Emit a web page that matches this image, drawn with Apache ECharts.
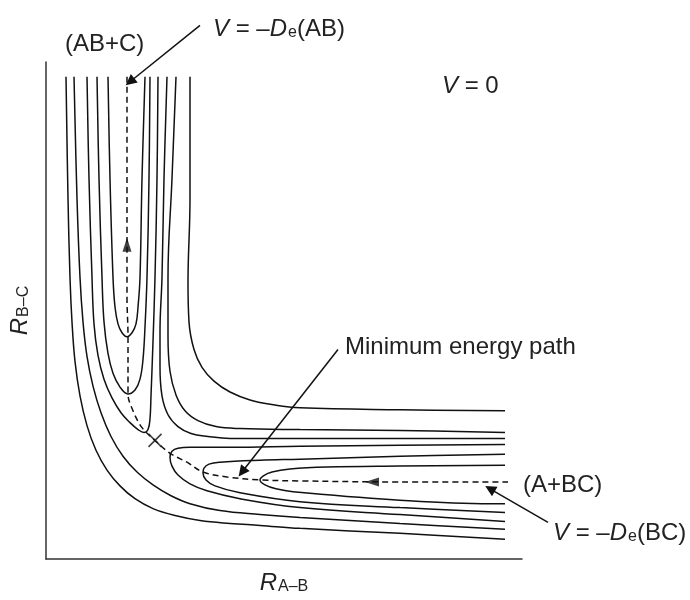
<!DOCTYPE html>
<html>
<head>
<meta charset="utf-8">
<script src="https://cdn.jsdelivr.net/npm/echarts@6/dist/echarts.min.js"></script>
<style>
  html, body { margin: 0; padding: 0; background: #fff; }
  #chart { width: 690px; height: 600px; }
</style>
</head>
<body>
<div id="chart"></div>
<script>
// R_A-B (x) and R_B-C (y), arbitrary length units
// U-shaped contours of the AB+C channel (top)
const u1 = [[0.62,4.88],[0.64,3.85],[0.67,2.85],[0.69,2.55],[0.72,2.38],[0.76,2.29],[0.81,2.25],[0.86,2.29],[0.90,2.38],[0.92,2.55],[0.94,2.85],[0.96,3.85],[0.99,4.88]];
const u2 = [[0.51,4.88],[0.53,3.85],[0.56,2.85],[0.58,2.40],[0.62,2.08],[0.67,1.88],[0.74,1.74],[0.82,1.67],[0.89,1.71],[0.94,1.82],[0.97,2.02],[0.99,2.35],[1.01,2.85],[1.03,3.85],[1.04,4.88]];
const u3 = [[0.41,4.88],[0.43,3.85],[0.46,2.85],[0.48,2.38],[0.52,2.06],[0.58,1.82],[0.66,1.63],[0.75,1.48],[0.84,1.38],[0.92,1.31],[0.98,1.28],[1.02,1.31],[1.04,1.42],[1.05,1.65],[1.07,2.20],[1.09,2.85],[1.11,3.85],[1.12,4.88]];
// sideways U contours of the A+BC channel (right)
const v1 = [[4.59,0.95],[3.54,0.94],[2.81,0.93],[2.44,0.91],[2.26,0.88],[2.17,0.84],[2.14,0.80],[2.19,0.75],[2.30,0.71],[2.47,0.68],[3.47,0.60],[4.44,0.56],[4.59,0.56]];
const v2 = [[4.59,1.06],[3.54,1.04],[2.54,1.01],[2.14,1.00],[1.74,0.98],[1.63,0.96],[1.58,0.92],[1.57,0.87],[1.60,0.80],[1.69,0.74],[1.94,0.67],[2.54,0.58],[3.54,0.52],[4.59,0.47]];
const v3 = [[4.59,1.16],[3.54,1.15],[2.54,1.14],[1.84,1.13],[1.44,1.13],[1.32,1.12],[1.26,1.09],[1.24,1.03],[1.26,0.94],[1.32,0.85],[1.44,0.76],[1.61,0.69],[1.94,0.61],[2.54,0.52],[3.54,0.45],[4.59,0.38]];
// contours running round the corner, outer (plateau) side
const r4 = [[1.21,4.88],[1.18,3.85],[1.16,2.85],[1.14,2.30],[1.14,1.95],[1.16,1.65],[1.22,1.46],[1.32,1.34],[1.45,1.27],[1.62,1.24],[1.84,1.22],[2.54,1.22],[4.59,1.22]];
const r5 = [[1.30,4.88],[1.26,3.85],[1.22,2.85],[1.22,2.25],[1.24,1.90],[1.30,1.66],[1.39,1.50],[1.52,1.40],[1.70,1.34],[1.94,1.32],[2.54,1.31],[3.54,1.30],[4.59,1.28]];
const r6 = [[1.44,4.88],[1.44,3.65],[1.42,2.80],[1.43,2.40],[1.48,2.12],[1.56,1.94],[1.68,1.80],[1.84,1.69],[2.04,1.61],[2.28,1.56],[2.54,1.53],[3.54,1.51],[4.59,1.50]];
// contours running round the corner, repulsive (inner) side
const l4 = [[0.28,4.88],[0.31,3.65],[0.34,2.85],[0.37,2.40],[0.41,2.05],[0.47,1.75],[0.55,1.48],[0.65,1.24],[0.77,1.04],[0.91,0.88],[1.07,0.75],[1.25,0.64],[1.44,0.56],[1.74,0.49],[2.14,0.45],[2.54,0.42],[3.54,0.36],[4.59,0.30]];
const l5 = [[0.20,4.88],[0.22,3.65],[0.24,2.85],[0.26,2.40],[0.29,2.00],[0.34,1.65],[0.41,1.35],[0.50,1.10],[0.61,0.90],[0.74,0.74],[0.89,0.61],[1.07,0.51],[1.29,0.44],[1.54,0.39],[1.84,0.36],[2.14,0.34],[2.54,0.31],[3.54,0.26],[4.59,0.20]];
// minimum energy path, saddle point and direction marks
const mep = [[0.81,4.88],[0.81,3.65],[0.81,2.65],[0.82,2.25],[0.82,1.67],[0.87,1.50],[0.96,1.33],[1.09,1.20],[1.24,1.07],[1.41,0.98],[1.57,0.88],[1.81,0.83],[2.14,0.80],[2.54,0.79],[3.54,0.78],[4.62,0.78]];
const saddle = [[1.09,1.20]];
const mepArrowUp = [[0.81,3.18]];
const mepArrowLeft = [[3.26,0.78]];
// annotation pointers: [from, to]
const pointers = [
  [[1.54,5.40],[0.84,4.83]],
  [[2.92,2.12],[1.96,0.88]],
  [[5.02,0.37],[4.44,0.71]]
];

const FONT = '"Liberation Sans", Arial, Helvetica, sans-serif';
const INK = '#111';

const contours = [u1, u2, u3, v1, v2, v3, r4, r5, r6, l4, l5];

const chart = echarts.init(document.getElementById('chart'), null, { renderer: 'canvas' });

const series = contours.map((d, i) => ({
  name: 'c' + i,
  type: 'line',
  data: d,
  symbol: 'none',
  smooth: 0.4,
  silent: true,
  lineStyle: { color: INK, width: 1.5 }
}));

series.push({
  name: 'mep',
  type: 'line',
  data: mep,
  symbol: 'none',
  smooth: 0.35,
  silent: true,
  lineStyle: { color: INK, width: 1.5, type: [6, 4] }
});

series.push({
  type: 'scatter',
  data: mepArrowUp,
  symbol: 'triangle',
  symbolSize: [9, 14],
  itemStyle: { color: INK },
  silent: true
});
series.push({
  type: 'scatter',
  data: mepArrowLeft,
  symbol: 'triangle',
  symbolSize: [9, 14],
  symbolRotate: 90,
  itemStyle: { color: INK },
  silent: true
});
series.push({
  type: 'scatter',
  data: saddle,
  symbol: 'path://M0,0L10,10M10,0L0,10',
  symbolSize: 13,
  itemStyle: { color: 'none', borderColor: INK, borderWidth: 1.6 },
  silent: true
});
series.push({
  type: 'lines',
  coordinateSystem: 'cartesian2d',
  clip: false,
  silent: true,
  symbol: ['none', 'triangle'],
  symbolSize: 11,
  lineStyle: { color: INK, width: 1.5, opacity: 1, curveness: 0 },
  data: pointers.map(p => ({ coords: p }))
});

const sub = { fontSize: 16, fontFamily: FONT, color: '#222', verticalAlign: 'bottom', padding: [0, 0, 0, 1] };
const it = { fontSize: 24, fontFamily: FONT, fontStyle: 'italic', color: '#222' };
const nm = { fontSize: 24, fontFamily: FONT, color: '#222' };

function label(x, y, text) {
  return {
    type: 'text', x: x, y: y,
    style: { text: text, rich: { i: it, n: nm, e: sub }, fontSize: 24, fontFamily: FONT, fill: '#222', verticalAlign: 'middle', align: 'left' }
  };
}

chart.setOption({
  animation: false,
  backgroundColor: '#fff',
  grid: { left: 46, right: 168, top: 62, bottom: 35 },
  xAxis: {
    type: 'value', min: 0, max: 4.76,
    axisLine: { show: true, lineStyle: { color: '#333', width: 1.5 } },
    axisTick: { show: false }, axisLabel: { show: false }, splitLine: { show: false },
    name: '{i|R}{e|A–B}',
    nameLocation: 'middle', nameGap: 12,
    nameTextStyle: { rich: { i: it, e: sub } }
  },
  yAxis: {
    type: 'value', min: 0, max: 5.03,
    axisLine: { show: true, lineStyle: { color: '#333', width: 1.5 } },
    axisTick: { show: false }, axisLabel: { show: false }, splitLine: { show: false },
    name: '{i|R}{e|B–C}',
    nameLocation: 'middle', nameGap: 14, nameRotate: 90,
    nameTextStyle: { rich: { i: it, e: sub } }
  },
  graphic: [
    label(65, 44, '{n|(AB+C)}'),
    label(213, 29, '{i|V}{n| = –}{i|D}{e|e}{n|(AB)}'),
    label(442, 86, '{i|V}{n| = 0}'),
    label(345, 347, '{n|Minimum energy path}'),
    label(523, 485, '{n|(A+BC)}'),
    label(553, 533, '{i|V}{n| = –}{i|D}{e|e}{n|(BC)}')
  ],
  series: series
});
</script>
</body>
</html>
